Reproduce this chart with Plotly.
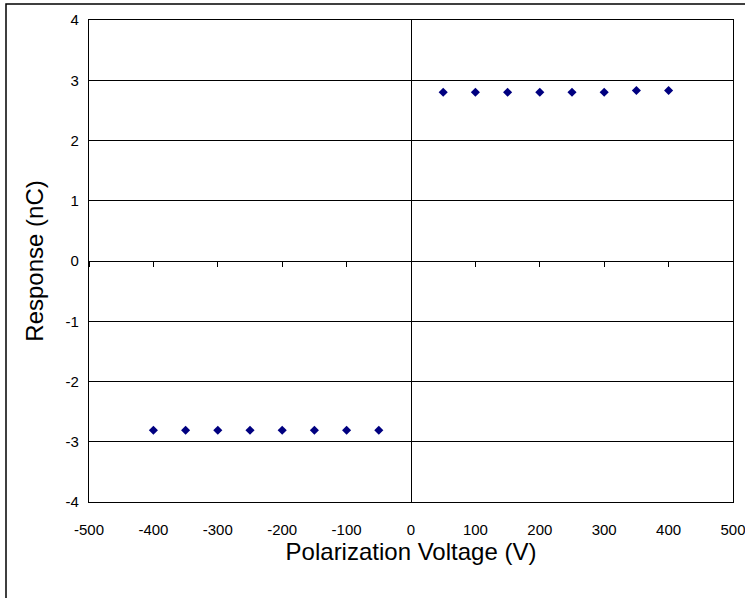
import plotly.graph_objects as go

voltage_pos = [50, 100, 150, 200, 250, 300, 350, 400]
response_pos = [2.80, 2.80, 2.80, 2.80, 2.80, 2.80, 2.83, 2.83]
voltage_neg = [-400, -350, -300, -250, -200, -150, -100, -50]
response_neg = [-2.81, -2.81, -2.81, -2.81, -2.81, -2.81, -2.81, -2.81]

x_ticks = [-500, -400, -300, -200, -100, 0, 100, 200, 300, 400, 500]
y_ticks = [-4, -3, -2, -1, 0, 1, 2, 3, 4]

FONT = "Liberation Sans, Arial, sans-serif"
navy = "#000080"

fig = go.Figure()
fig.add_trace(go.Scatter(x=voltage_pos + voltage_neg, y=response_pos + response_neg,
                         mode="markers",
                         marker=dict(symbol="diamond", size=7, color=navy),
                         showlegend=False))
# invisible trace on the secondary x axis (ticks on the y=0 line)
fig.add_trace(go.Scatter(x=[-500, 500], y=[0, 0], xaxis="x2", mode="markers",
                         marker=dict(opacity=0), showlegend=False, hoverinfo="skip"))

fig.update_layout(
    width=745, height=598,
    margin=dict(l=89, r=12, t=20, b=96),
    paper_bgcolor="white", plot_bgcolor="white",
    font=dict(family=FONT, color="black", size=15),
    xaxis=dict(range=[-500, 500], tickvals=x_ticks, ticktext=[str(v) for v in x_ticks],
               showgrid=False, zeroline=True, zerolinecolor="black", zerolinewidth=1.3,
               showline=True, linecolor="black", linewidth=1.3, mirror=True,
               ticks="", ticklabelstandoff=14, automargin=False, ticklabeloverflow="allow",
               tickfont=dict(size=15, family=FONT),
               title=dict(text="Polarization Voltage (V)", font=dict(size=24, family=FONT), standoff=4)),
    xaxis2=dict(range=[-500, 500], overlaying="x", anchor="free", position=0.5, side="bottom",
                tickvals=x_ticks, showticklabels=False, ticks="outside", ticklen=5,
                tickcolor="black", tickwidth=1.3, showgrid=False, zeroline=False, showline=False),
    yaxis=dict(range=[-4, 4], tickvals=y_ticks, ticktext=[str(v) for v in y_ticks],
               showgrid=True, gridcolor="black", gridwidth=1.3,
               zeroline=True, zerolinecolor="black", zerolinewidth=1.3,
               showline=True, linecolor="black", linewidth=1.3, mirror=True,
               ticks="", ticklabelstandoff=6, automargin=False,
               tickfont=dict(size=15, family=FONT),
               title=dict(text="Response (nC)", font=dict(size=24, family=FONT), standoff=15)),
    shapes=[dict(type="rect", xref="paper", yref="paper",
                 x0=(6 - 89) / 644, x1=1.1, y0=-0.3, y1=1 + 16 / 482,
                 line=dict(color="black", width=1.5), layer="below")],
)

fig.write_html("out.html")
